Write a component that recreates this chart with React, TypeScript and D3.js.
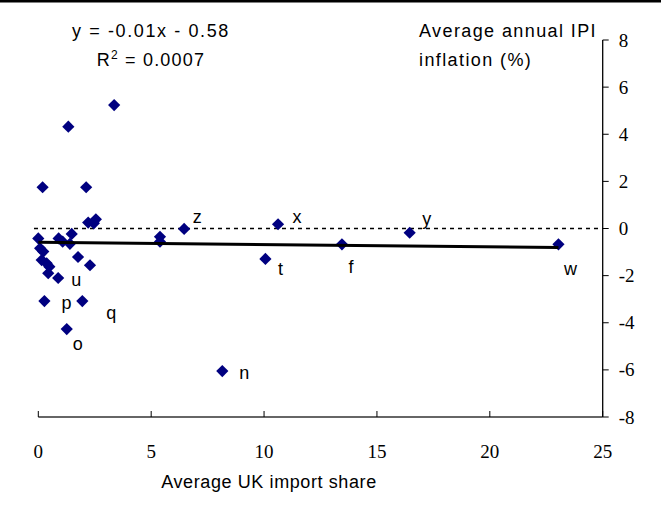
import React from "react";
import * as d3 from "d3";

// Average UK import share (x) vs average annual IPI inflation (y)
const shareX: number[] = [
  0, 0.08, 0.22, 0.15, 0.37, 0.49, 0.44, 0.88, 0.19, 0.27, 1.33, 3.36, 2.12,
  2.21, 2.46, 2.55, 0.9, 1.08, 1.48, 1.4, 1.76, 2.29, 1.95, 1.26, 5.39, 5.39,
  6.46, 8.15, 10.06, 10.62, 13.45, 16.45, 23.04,
];
const inflationY: number[] = [
  -0.42, -0.84, -0.98, -1.34, -1.48, -1.62, -1.9, -2.1, 1.75, -3.08, 4.32, 5.24,
  1.75, 0.25, 0.22, 0.39, -0.42, -0.56, -0.23, -0.65, -1.21, -1.56, -3.08,
  -4.27, -0.35, -0.56, -0.02, -6.05, -1.29, 0.18, -0.67, -0.18, -0.67,
];
const pointLabels: string[] = [
  "", "", "", "", "", "", "", "u", "", "p", "", "", "",
  "", "", "", "", "", "", "", "", "", "q", "o", "", "",
  "z", "n", "t", "x", "f", "y", "w",
];

const xTicks: number[] = [0, 5, 10, 15, 20, 25];
const yTicks: number[] = [8, 6, 4, 2, 0, -2, -4, -6, -8];

// Trend line coefficients
const slope = -0.01;
const intercept = -0.58;

// Label placement relative to its marker (dx, dy in px)
const labelOffset: Record<string, [number, number]> = {
  u: [18, 8],
  p: [22, 8],
  q: [29, 18],
  o: [11, 21],
  z: [13, -6],
  n: [22, 8],
  t: [15, 16],
  x: [19, -1],
  f: [9, 29],
  y: [17, -8],
  w: [12, 31],
};

const W = 661;
const H = 509;

export default function App() {
  const x = d3.scaleLinear().domain([0, 25]).range([38.3, 602.7]);
  const y = d3.scaleLinear().domain([-8, 8]).range([417, 40]);

  const xMax = d3.max(shareX) as number;
  const trend = d3
    .line<number>()
    .x((d) => x(d))
    .y((d) => y(slope * d + intercept));

  const diamond = d3.symbol().type(d3.symbolDiamond2).size(95);
  const dPath = diamond() as string;

  const sans = "Arial, 'Liberation Sans', sans-serif";
  const serif = "'Times New Roman', 'Liberation Serif', serif";

  return (
    <svg
      width={W}
      height={H}
      style={{ position: "absolute", left: 0, top: 0, background: "#fff" }}
    >
      <rect x={0} y={0} width={W} height={2.5} fill="#000" />

      {/* zero reference */}
      <line
        x1={34}
        x2={x(25)}
        y1={y(0)}
        y2={y(0)}
        stroke="#000"
        strokeWidth={1.5}
        strokeDasharray="4,4"
      />

      {/* x axis */}
      <line x1={x(0)} x2={x(25)} y1={y(-8)} y2={y(-8)} stroke="#333" strokeWidth={1.3} />
      {xTicks.map((t) => (
        <g key={"xt" + t}>
          <line x1={x(t)} x2={x(t)} y1={y(-8)} y2={y(-8) - 6} stroke="#000" strokeWidth={1} />
          <text
            x={x(t)}
            y={y(-8) + 41}
            textAnchor="middle"
            fontFamily={serif}
            fontSize={19}
            fill="#000"
          >
            {t}
          </text>
        </g>
      ))}

      {/* y axis on the right */}
      <line x1={x(25)} x2={x(25)} y1={y(8)} y2={y(-8)} stroke="#000" strokeWidth={1.3} />
      {yTicks.map((t) => (
        <g key={"yt" + t}>
          <line x1={x(25)} x2={x(25) + 6} y1={y(t)} y2={y(t)} stroke="#000" strokeWidth={1} />
          <text
            x={x(25) + 16}
            y={y(t) + 6.5}
            textAnchor="start"
            fontFamily={serif}
            fontSize={19}
            fill="#000"
          >
            {t}
          </text>
        </g>
      ))}

      {/* points */}
      {shareX.map((v, i) => (
        <path
          key={"p" + i}
          d={dPath}
          transform={`translate(${x(v)},${y(inflationY[i])})`}
          fill="#000080"
        />
      ))}

      {/* regression line */}
      <path d={trend([0, xMax]) as string} fill="none" stroke="#000" strokeWidth={3} />

      {/* point labels */}
      {shareX.map((v, i) => {
        const lab = pointLabels[i];
        if (!lab) return null;
        const [dx, dy] = labelOffset[lab];
        return (
          <text
            key={"l" + i}
            x={x(v) + dx}
            y={y(inflationY[i]) + dy}
            textAnchor="middle"
            fontFamily={sans}
            fontSize={18}
            fill="#000"
          >
            {lab}
          </text>
        );
      })}

      {/* equation */}
      <text
        x={151}
        y={37}
        textAnchor="middle"
        fontFamily={sans}
        fontSize={18}
        letterSpacing={1.6}
        fill="#000"
      >
        y = -0.01x - 0.58
      </text>
      <text
        x={151}
        y={66}
        textAnchor="middle"
        fontFamily={sans}
        fontSize={18}
        letterSpacing={1.2}
        fill="#000"
      >
        R<tspan dy={-7} fontSize={12}>2</tspan>
        <tspan dy={7}> = 0.0007</tspan>
      </text>

      {/* axis titles */}
      <text x={419} y={37} fontFamily={sans} fontSize={18} letterSpacing={1.4} fill="#000">
        Average annual IPI
      </text>
      <text x={419} y={66} fontFamily={sans} fontSize={18} letterSpacing={1.4} fill="#000">
        inflation (%)
      </text>
      <text
        x={269}
        y={488}
        textAnchor="middle"
        fontFamily={sans}
        fontSize={18}
        letterSpacing={0.6}
        fill="#000"
      >
        Average UK import share
      </text>
    </svg>
  );
}
